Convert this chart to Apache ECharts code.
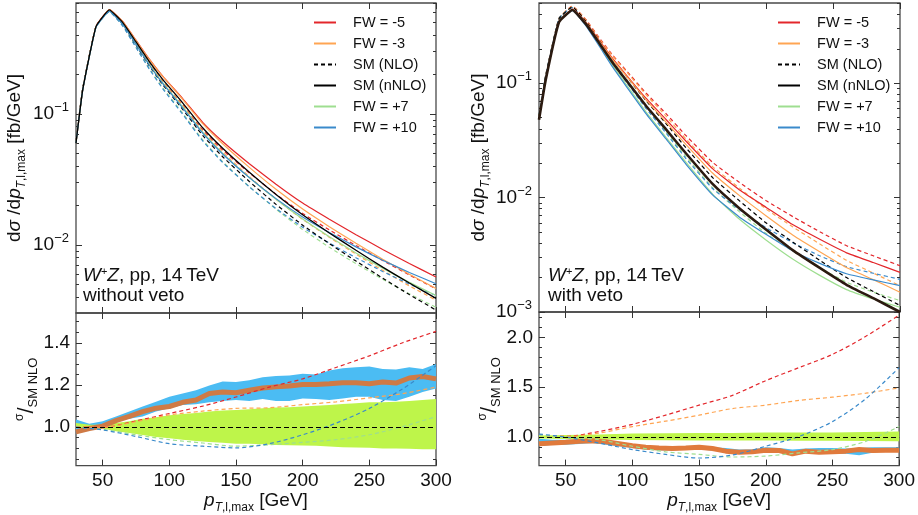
<!DOCTYPE html>
<html><head><meta charset="utf-8">
<script src="https://cdn.jsdelivr.net/npm/echarts@6/dist/echarts.min.js"></script>
<style>html,body{margin:0;padding:0;background:#fff}#c{width:918px;height:515px}</style>
</head><body><div id="c"></div>
<script>
// ---------- data: top panels (dσ/dpT, fb/GeV) ----------
const xs = [30,35,45,55,65,75,85,95,110,125,140,160,180,200,220,240,260,280,300];
// left: without veto
const L_smNLO  = [0.0615,0.1551,0.4663,0.6158,0.4854,0.3365,0.2335,0.168,0.1086,0.06856,0.04716,0.03055,0.02042,0.01417,0.01026,0.00754,0.00559,0.00419,0.00319];
const L_smNNLO = [0.060,0.152,0.464,0.622,0.50,0.355,0.251,0.184,0.1216,0.0785,0.0547,0.0359,0.0243,0.0170,0.01236,0.00912,0.00679,0.00513,0.00392];
const L_m5     = [0.060,0.152,0.464,0.6257,0.509,0.3657,0.262,0.1947,0.1312,0.08635,0.0616,0.04172,0.02911,0.02089,0.01572,0.012,0.00925,0.00724,0.0057];
const L_m3     = [0.060,0.152,0.464,0.6251,0.508,0.3642,0.2608,0.1936,0.1295,0.08447,0.0593,0.03913,0.02661,0.01882,0.01381,0.01031,0.00779,0.00598,0.00466];
const L_p7     = [0.060,0.1517,0.4608,0.6127,0.487,0.3422,0.2397,0.1739,0.1137,0.07261,0.0501,0.03274,0.02233,0.01578,0.01159,0.00871,0.00665,0.00519,0.00412];
const L_p10    = [0.060,0.1515,0.4594,0.6102,0.484,0.3394,0.2364,0.1709,0.1115,0.07144,0.0495,0.03267,0.0226,0.01639,0.01246,0.00968,0.00765,0.00618,0.00506];
const L_m5NLO  = [0.0615,0.1551,0.4663,0.6195,0.4941,0.3466,0.2438,0.1777,0.1172,0.07542,0.0531,0.0355,0.02446,0.01742,0.01305,0.00992,0.00762,0.00591,0.00464];
const L_m3NLO  = [0.0615,0.1551,0.4663,0.6189,0.4932,0.3452,0.2426,0.1767,0.1157,0.07377,0.05112,0.0333,0.02236,0.01569,0.01146,0.00853,0.00641,0.00488,0.0038];
const L_p7NLO  = [0.0615,0.1548,0.463,0.6066,0.4728,0.3244,0.223,0.1588,0.1015,0.06342,0.0432,0.02786,0.01877,0.01315,0.00962,0.0072,0.00548,0.00424,0.00335];
const L_p10NLO = [0.0615,0.1546,0.4616,0.6041,0.4699,0.3217,0.22,0.1561,0.0996,0.06239,0.04268,0.0278,0.01899,0.01366,0.01034,0.008,0.00629,0.00504,0.00412];
// right: with veto
const R_smNLO  = [0.052,0.115,0.367,0.465,0.349,0.237,0.1626,0.117,0.0706,0.0444,0.0272,0.0149,0.00936,0.00599,0.00407,0.00283,0.0020,0.00151,0.00114];
const R_smNNLO = [0.048,0.107,0.343,0.437,0.33,0.225,0.152,0.107,0.0635,0.0395,0.0243,0.0131,0.00805,0.00524,0.00346,0.00243,0.00173,0.00132,0.001];
const R_m5     = [0.049,0.1088,0.3464,0.4444,0.3419,0.2376,0.1649,0.1192,0.074,0.0482,0.0311,0.01782,0.01166,0.00821,0.00578,0.00432,0.00329,0.00271,0.00222];
const R_m3     = [0.049,0.1088,0.3464,0.4431,0.3389,0.234,0.162,0.1168,0.0716,0.0458,0.0291,0.01632,0.01041,0.00692,0.0047,0.00337,0.00245,0.00192,0.00149];
const R_p7     = [0.049,0.1086,0.3447,0.4348,0.3247,0.2192,0.1441,0.0985,0.0563,0.0337,0.02031,0.01069,0.00646,0.00424,0.00289,0.00209,0.00157,0.0013,0.0011];
const R_p10    = [0.0494,0.1094,0.3457,0.4318,0.3181,0.2115,0.1389,0.095,0.0543,0.0326,0.01954,0.01051,0.00675,0.00476,0.00342,0.00266,0.00216,0.00191,0.0017];
const R_m5NLO  = [0.053,0.117,0.371,0.473,0.3616,0.2503,0.1764,0.1303,0.0822,0.0542,0.0348,0.02026,0.01355,0.00938,0.0068,0.00503,0.0038,0.0031,0.00254];
const R_m3NLO  = [0.053,0.117,0.3707,0.4715,0.3584,0.2465,0.1733,0.1278,0.0796,0.0515,0.0325,0.01857,0.0121,0.00791,0.00553,0.00393,0.00283,0.00219,0.0017];
const R_p7NLO  = [0.053,0.1167,0.3688,0.4627,0.3434,0.2308,0.1541,0.1078,0.0626,0.0378,0.02274,0.01216,0.00751,0.00485,0.0034,0.00244,0.00182,0.00149,0.00126];
const R_p10NLO = [0.0536,0.1175,0.37,0.4594,0.3364,0.2228,0.1486,0.1039,0.0604,0.0367,0.02187,0.01195,0.00784,0.00544,0.00402,0.0031,0.00249,0.00218,0.00193];

// ---------- data: ratio panels (σ / SM NLO) ----------
const xr = [30,50,75,100,125,150,175,200,225,250,275,300];
const LB_m5  = [1.0,1.0,1.03,1.065,1.10,1.143,1.19,1.229,1.283,1.338,1.40,1.454];
const LB_m3  = [1.0,1.0,1.026,1.058,1.076,1.089,1.092,1.107,1.12,1.139,1.159,1.19];
const LB_p7  = [1.0,0.99,0.964,0.941,0.925,0.91,0.917,0.928,0.941,0.964,1.003,1.05];
const LB_p10 = [1.0,0.987,0.956,0.922,0.91,0.902,0.922,0.964,1.019,1.089,1.182,1.291];
const RB_m5  = [1.02,1.007,1.056,1.128,1.22,1.32,1.418,1.566,1.697,1.829,2.01,2.224];
const RB_m3  = [1.02,1.007,1.04,1.105,1.16,1.22,1.286,1.32,1.368,1.40,1.44,1.493];
const RB_p7  = [1.02,1.0,0.974,0.908,0.852,0.826,0.80,0.81,0.842,0.875,0.957,1.105];
const RB_p10 = [1.03,1.0,0.94,0.875,0.826,0.79,0.82,0.908,1.007,1.155,1.385,1.697];
const RB_nloLo = [0.985,0.98,0.975,0.97,0.967,0.965,0.965,0.965,0.963,0.962,0.96,0.958];
const RB_nloHi = [1.015,1.02,1.025,1.035,1.038,1.04,1.042,1.045,1.045,1.045,1.05,1.055];

const xg = [30,40,50,60,70,80,90,100,110,120,130,140,150,160,170,180,190,200,210,220,230,240,250,260,270,280,290,300];
const LB_nnloHi = [1.036,1.016,1.028,1.051,1.074,1.098,1.121,1.144,1.160,1.175,1.198,1.217,1.214,1.222,1.237,1.242,1.245,1.253,1.25,1.268,1.279,1.284,1.287,1.276,1.273,1.284,1.276,1.299];
const LB_nnloLo = [0.981,1.0,1.005,1.028,1.04,1.051,1.074,1.09,1.105,1.109,1.118,1.124,1.129,1.124,1.133,1.124,1.124,1.136,1.133,1.129,1.136,1.144,1.144,1.129,1.124,1.144,1.167,1.183];
const LB_nnlo   = [0.978,0.994,1.005,1.031,1.051,1.074,1.09,1.098,1.118,1.129,1.160,1.167,1.163,1.175,1.186,1.191,1.195,1.202,1.202,1.206,1.211,1.211,1.206,1.214,1.209,1.233,1.240,1.229];
const LB_nloHi  = [1.02,1.012,1.012,1.02,1.028,1.04,1.047,1.056,1.062,1.067,1.074,1.079,1.081,1.085,1.09,1.093,1.095,1.098,1.102,1.105,1.11,1.113,1.118,1.118,1.121,1.124,1.129,1.133];
const LB_nloLo  = [0.997,0.997,0.994,0.981,0.972,0.963,0.953,0.947,0.941,0.935,0.93,0.926,0.922,0.922,0.919,0.916,0.915,0.913,0.912,0.909,0.905,0.904,0.902,0.899,0.899,0.898,0.896,0.895];
const RB_nnloHi = [0.984,0.974,0.974,0.974,0.964,0.957,0.941,0.924,0.914,0.901,0.891,0.905,0.908,0.898,0.891,0.875,0.875,0.898,0.891,0.875,0.885,0.891,0.891,0.885,0.891,0.898,0.898,0.898];
const RB_nnloLo = [0.908,0.924,0.924,0.931,0.941,0.924,0.908,0.891,0.875,0.868,0.865,0.875,0.875,0.865,0.852,0.842,0.842,0.859,0.849,0.832,0.842,0.842,0.832,0.832,0.819,0.842,0.859,0.852];
const RB_nnlo   = [0.934,0.941,0.947,0.957,0.964,0.954,0.934,0.914,0.898,0.891,0.885,0.891,0.898,0.885,0.859,0.849,0.852,0.868,0.865,0.832,0.859,0.849,0.852,0.859,0.875,0.865,0.868,0.868];

// ---------- ticks / labels ----------
const xTicks = [50,100,150,200,250,300];
const L_decades = [0.01,0.1];
const R_decades = [0.001,0.01,0.1];
const L_logMinor = [0.004,0.005,0.006,0.007,0.008,0.009,0.02,0.03,0.04,0.05,0.06,0.07,0.08,0.09,0.2,0.3,0.4,0.5,0.6,0.7];
const R_logMinor = [0.002,0.003,0.004,0.005,0.006,0.007,0.008,0.009,0.02,0.03,0.04,0.05,0.06,0.07,0.08,0.09,0.2,0.3,0.4,0.5];
const LB_ticks = [1.0,1.2,1.4];
const LB_minor = [0.85,0.9,0.95,1.05,1.1,1.15,1.25,1.3,1.35,1.45,1.5];
const RB_ticks = [1.0,1.5,2.0];
const RB_minor = [0.8,0.9,1.1,1.2,1.3,1.4,1.6,1.7,1.8,1.9,2.1,2.2];
const legendNames = ['FW = -5','FW = -3','SM (NLO)','SM (nNLO)','FW = +7','FW = +10'];

const FF = '"Liberation Sans", Arial, Helvetica, sans-serif';
const C = {red:'#e3262b', orange:'#ffa552', green:'#9ede90', blue:'#3a8acb', black:'#000',
           bandBlue:'#4bbcf3', bandGreen:'#bef54a', thick:'#cf7a45'};

const G = [
  {left:76, top:3, width:360, height:310},
  {left:76, top:313, width:360, height:155},
  {left:539, top:3, width:361, height:309},
  {left:539, top:312, width:361, height:156}
];

const pairs = (x, y) => x.map((v, i) => [v, y[i]]);
const richBase = {
  a:{fontSize:19, fontFamily:FF, color:'#111', lineHeight:26},
  it:{fontSize:19, fontFamily:FF, fontStyle:'italic', color:'#111', lineHeight:26},
  sub:{fontSize:12, fontFamily:FF, color:'#111', lineHeight:12, verticalAlign:'bottom'},
  sit:{fontSize:12, fontFamily:FF, fontStyle:'italic', color:'#111', lineHeight:12, verticalAlign:'bottom'},
  sup:{fontSize:12, fontFamily:FF, color:'#111', lineHeight:12, verticalAlign:'top'},
  big:{fontSize:22, fontFamily:FF, color:'#111', lineHeight:26},
  ssm:{fontSize:13, fontFamily:FF, color:'#111', lineHeight:13, verticalAlign:'bottom'}
};
const tickStyle = {color:'#333', width:1};

function xAx(gi, pos, withLabels) {
  const ax = {type:'value', gridIndex:gi, min:30, max:300, position:pos,
    axisLine:{show:false}, splitLine:{show:false},
    axisTick:{show:true, inside:true, length:6, customValues:xTicks, lineStyle:tickStyle},
    axisLabel:{show:withLabels, customValues:xTicks, fontSize:19, fontFamily:FF, color:'#111', margin:6}};
  if (withLabels && pos === 'bottom') {
    ax.name = '{it|p}{sit|T}{sub|,l,max}{a| [GeV]}';
    ax.nameLocation = 'middle'; ax.nameGap = 21;
    ax.nameTextStyle = {rich: richBase};
  }
  return ax;
}
function logFmt(v) {
  const e = Math.log10(v);
  if (Math.abs(e - Math.round(e)) > 1e-6) return '';
  return '{a|10}{sup|\u2212' + (-Math.round(e)) + '}';
}
function yLog(gi, pos, min, max, ticks, labels, len) {
  return {type:'log', logBase:10, gridIndex:gi, min, max, position:pos,
    axisLine:{show:false}, splitLine:{show:false}, minorTick:{show:false},
    axisTick:{show:true, inside:true, length:len, customValues:ticks, lineStyle:tickStyle},
    axisLabel:{show:labels, customValues:ticks, formatter:logFmt, margin:7,
      rich:{a:{fontSize:19, fontFamily:FF, color:'#111', lineHeight:26},
            sup:{fontSize:13, fontFamily:FF, color:'#111', lineHeight:13, verticalAlign:'top'}}}};
}
function yLin(gi, pos, min, max, ticks, labels, len) {
  return {type:'value', gridIndex:gi, min, max, position:pos,
    axisLine:{show:false}, splitLine:{show:false},
    axisTick:{show:true, inside:true, length:len, customValues:ticks, lineStyle:tickStyle},
    axisLabel:{show:labels, customValues:ticks, formatter:(v)=>v.toFixed(1), fontSize:19, fontFamily:FF, color:'#111', margin:6}};
}

const xAxis = [
  xAx(0,'bottom',false), xAx(0,'top',false),
  xAx(1,'bottom',true),  xAx(1,'top',false),
  xAx(2,'bottom',false), xAx(2,'top',false),
  xAx(3,'bottom',true),  xAx(3,'top',false)
];
const topName = '{a|d}{it|\u03c3}{a| /d}{it|p}{sit|T}{sub|,l,max}{a| [fb/GeV]}';
const botName = '{sup|\u03c3}{big|/}{ssm|SM NLO}';
function named(ax, name, gap) {
  ax.name = name; ax.nameLocation = 'middle'; ax.nameRotate = 90; ax.nameGap = gap;
  ax.nameTextStyle = {rich: richBase};
  return ax;
}
const yAxis = [
  named(yLog(0,'left',0.00303,0.703,L_decades,true,6), topName, 48),   //0
  yLog(0,'left',0.00303,0.703,L_logMinor,false,3),                     //1
  yLog(0,'right',0.00303,0.703,L_decades,false,6),                     //2
  yLog(0,'right',0.00303,0.703,L_logMinor,false,3),                    //3
  named(yLin(1,'left',0.818,1.541,LB_ticks,true,6), botName, 33),      //4
  yLin(1,'left',0.818,1.541,LB_minor,false,3),                         //5
  yLin(1,'right',0.818,1.541,LB_ticks,false,6),                        //6
  yLin(1,'right',0.818,1.541,LB_minor,false,3),                        //7
  named(yLog(2,'left',0.001,0.503,R_decades,true,6), topName, 47),     //8
  yLog(2,'left',0.001,0.503,R_logMinor,false,3),                       //9
  yLog(2,'right',0.001,0.503,R_decades,false,6),                       //10
  yLog(2,'right',0.001,0.503,R_logMinor,false,3),                      //11
  named(yLin(3,'left',0.714,2.254,RB_ticks,true,6), botName, 36),      //12
  yLin(3,'left',0.714,2.254,RB_minor,false,3),                         //13
  yLin(3,'right',0.714,2.254,RB_ticks,false,6),                        //14
  yLin(3,'right',0.714,2.254,RB_minor,false,3)                         //15
];

function ln(name, xi, yi, x, y, color, dashed, width, smooth) {
  return {type:'line', name, xAxisIndex:xi, yAxisIndex:yi, data:pairs(x,y), symbol:'none',
    silent:true, itemStyle:{color}, smooth: smooth || false,
    lineStyle:{color, width:width||1.2, type:dashed?[4,3]:'solid'}};
}
function band(xi, yi, x, lo, hi, color) {
  return {type:'custom', xAxisIndex:xi, yAxisIndex:yi, silent:true,
    data:x.map((v,i)=>[v, lo[i], hi[i]]), encode:{x:0, y:[1,2]},
    renderItem:(params, api) => {
      if (params.dataIndex !== 0) return null;
      const pts = [];
      for (let i = 0; i < x.length; i++) pts.push(api.coord([x[i], hi[i]]));
      for (let i = x.length - 1; i >= 0; i--) pts.push(api.coord([x[i], lo[i]]));
      return {type:'polygon', shape:{points:pts}, style:{fill:color, stroke:null}};
    }};
}
const S = 0.12, SR = 0.3;
const series = [
  // left top
  ln('FW = -5 NLO',0,0,xs,L_m5NLO,C.red,true,1.2,S),
  ln('FW = -3 NLO',0,0,xs,L_m3NLO,C.orange,true,1.2,S),
  ln('FW = +7 NLO',0,0,xs,L_p7NLO,C.green,true,1.2,S),
  ln('FW = +10 NLO',0,0,xs,L_p10NLO,C.blue,true,1.2,S),
  ln('SM (NLO)',0,0,xs,L_smNLO,C.black,true,1.2,S),
  ln('FW = -5',0,0,xs,L_m5,C.red,false,1.2,S),
  ln('FW = -3',0,0,xs,L_m3,C.orange,false,1.2,S),
  ln('FW = +7',0,0,xs,L_p7,C.green,false,1.2,S),
  ln('FW = +10',0,0,xs,L_p10,C.blue,false,1.2,S),
  ln('SM (nNLO)',0,0,xs,L_smNNLO,C.black,false,1.3,S),
  // left bottom
  band(2,4,xg,LB_nnloLo,LB_nnloHi,C.bandBlue),
  band(2,4,xg,LB_nloLo,LB_nloHi,C.bandGreen),
  ln('l nnlo central',2,4,xg,LB_nnlo,C.thick,false,5),
  ln('lr m5',2,4,xr,LB_m5,C.red,true,1.2,SR),
  ln('lr m3',2,4,xr,LB_m3,C.orange,true,1.2,SR),
  ln('lr p7',2,4,xr,LB_p7,C.green,true,1.2,SR),
  ln('lr p10',2,4,xr,LB_p10,C.blue,true,1.2,SR),
  // right top
  ln('FW = -5 NLO',4,8,xs,R_m5NLO,C.red,true,1.2,S),
  ln('FW = -3 NLO',4,8,xs,R_m3NLO,C.orange,true,1.2,S),
  ln('FW = +7 NLO',4,8,xs,R_p7NLO,C.green,true,1.2,S),
  ln('FW = +10 NLO',4,8,xs,R_p10NLO,C.blue,true,1.2,S),
  ln('SM (NLO)',4,8,xs,R_smNLO,C.black,true,1.2,S),
  ln('FW = -5',4,8,xs,R_m5,C.red,false,1.2,S),
  ln('FW = -3',4,8,xs,R_m3,C.orange,false,1.2,S),
  ln('FW = +7',4,8,xs,R_p7,C.green,false,1.2,S),
  ln('FW = +10',4,8,xs,R_p10,C.blue,false,1.2,S),
  ln('SM (nNLO)',4,8,xs,R_smNNLO,'#2b1a10',false,2.6,S),
  // right bottom
  band(6,12,xg,RB_nnloLo,RB_nnloHi,C.bandBlue),
  band(6,12,xr,RB_nloLo,RB_nloHi,C.bandGreen),
  ln('r nnlo central',6,12,xg,RB_nnlo,'#e07a3c',false,5),
  ln('rr m5',6,12,xr,RB_m5,C.red,true,1.2,SR),
  ln('rr m3',6,12,xr,RB_m3,C.orange,true,1.2,SR),
  ln('rr p7',6,12,xr,RB_p7,C.green,true,1.2,SR),
  ln('rr p10',6,12,xr,RB_p10,C.blue,true,1.2,SR)
];
// SM NLO reference line at 1 in ratio panels
[[2,4],[6,12]].forEach(([xi, yi]) => series.push({type:'line', name:'ref'+xi, xAxisIndex:xi, yAxisIndex:yi,
  data:[], silent:true, z:5,
  markLine:{silent:true, symbol:'none', animation:false, label:{show:false},
    lineStyle:{color:'#000', type:[5,3], width:1.2}, data:[{yAxis:1}]}}));

function legend(left) {
  return {data:legendNames, orient:'vertical', left, top:10, itemWidth:22, itemHeight:14, itemGap:6,
    selectedMode:false, itemStyle:{opacity:0},
    formatter:(n)=>'   ' + n,
    textStyle:{fontSize:14.5, fontFamily:FF, color:'#111'}};
}

const grid = G.map(g => Object.assign({show:true, borderColor:'#4a4a4a', borderWidth:1.3, backgroundColor:'transparent'}, g));

const annoRich = {
  it:{fontSize:19, fontFamily:FF, fontStyle:'italic', fill:'#111', lineHeight:20},
  a:{fontSize:19, fontFamily:FF, fill:'#111', lineHeight:20},
  sup:{fontSize:11, fontFamily:FF, fill:'#111', lineHeight:10, verticalAlign:'top'}
};
const graphic = [
  {type:'text', left:83, top:266, z:10, style:{text:'{it|W}{sup|+}{it|Z}{a|, pp, 14\u2009TeV}\n{a|without veto}', rich:annoRich}},
  {type:'text', left:548, top:266, z:10, style:{text:'{it|W}{sup|+}{it|Z}{a|, pp, 14\u2009TeV}\n{a|with veto}', rich:annoRich}}
];

const chart = echarts.init(document.getElementById('c'), null, {renderer:'canvas'});
chart.setOption({animation:false, backgroundColor:'#fff', grid, xAxis, yAxis, series,
  legend:[legend(308), legend(772)], graphic});
</script></body></html>
